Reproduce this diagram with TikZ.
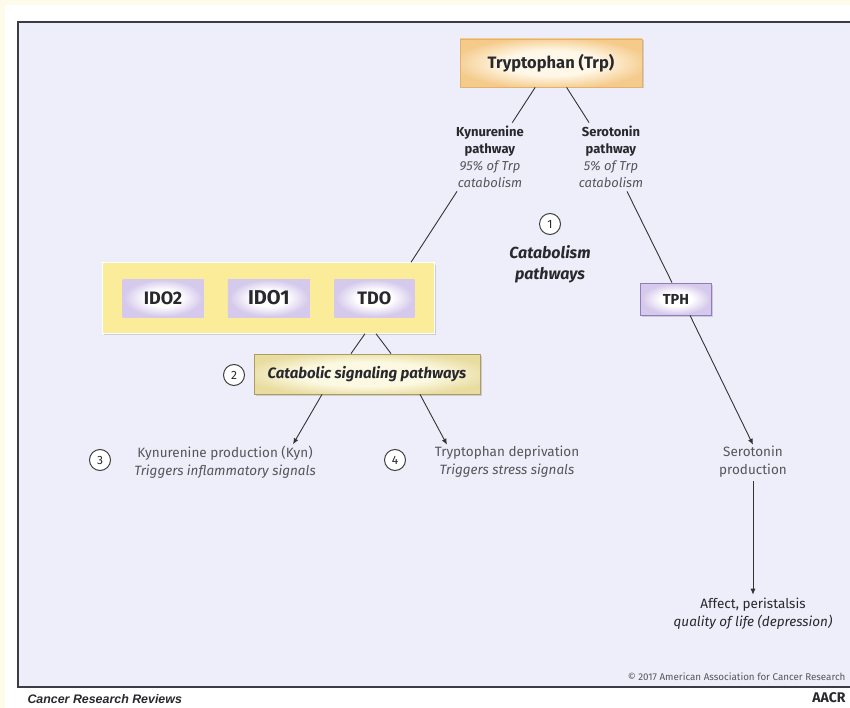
\documentclass[tikz,border=0pt]{standalone}
\usepackage{fontspec}
\setmainfont{Fira Sans}
\newfontfamily\footfont{Liberation Sans}
\usetikzlibrary{arrows.meta, positioning, fit, backgrounds, shadows}
\definecolor{cream}{RGB}{255, 251, 235}
\definecolor{panelbg}{RGB}{238, 238, 250}
\definecolor{framegray}{RGB}{60, 60, 70}
\definecolor{trpout}{RGB}{245, 203, 140}
\definecolor{trpin}{RGB}{255, 248, 232}
\definecolor{trpedge}{RGB}{228, 178, 110}
\definecolor{idoyellow}{RGB}{250, 236, 152}
\definecolor{enzlav}{RGB}{214, 202, 236}
\definecolor{tphedge}{RGB}{150, 122, 190}
\definecolor{catout}{RGB}{232, 220, 160}
\definecolor{catin}{RGB}{252, 249, 226}
\definecolor{catedge}{RGB}{175, 155, 95}
\definecolor{textdark}{RGB}{40, 40, 45}
\definecolor{textgray}{RGB}{85, 85, 90}

\pgfdeclareradialshading{lavglow}{\pgfpoint{0bp}{0bp}}{color(0bp)=(white); color(11bp)=(white); color(24bp)=(enzlav); color(50bp)=(enzlav)}
\pgfdeclareradialshading{trpglow}{\pgfpoint{0bp}{0bp}}{color(0bp)=(trpin); color(13bp)=(trpin); color(27bp)=(trpout); color(50bp)=(trpout)}
\pgfdeclareradialshading{catglow}{\pgfpoint{0bp}{0bp}}{color(0bp)=(catin); color(15bp)=(catin); color(28bp)=(catout); color(50bp)=(catout)}

\begin{document}
\begin{tikzpicture}[x=1pt, y=-1pt,
        node distance=24pt,
        trpbox/.style={rectangle, draw=trpedge, line width=0.8pt, shading=trpglow, minimum width=182pt, minimum height=48pt, font=\fontsize{16.5}{16.5}\selectfont\bfseries, text=textdark, drop shadow={shadow xshift=1.5pt, shadow yshift=-1.5pt, opacity=0.3}},
        enzbox/.style={rectangle, shading=lavglow, minimum height=38pt, font=\fontsize{18}{18}\selectfont\bfseries, text=textdark},
        catbox/.style={rectangle, draw=catedge, line width=0.8pt, shading=catglow, minimum width=226pt, minimum height=40pt, font=\fontsize{15}{15}\selectfont\bfseries\itshape, text=textdark, drop shadow={shadow xshift=1.5pt, shadow yshift=-1.5pt, opacity=0.3}},
        bg/.style={rectangle, fill=idoyellow, draw=white, line width=1pt, inner xsep=20pt, inner ysep=16pt, drop shadow={shadow xshift=1.5pt, shadow yshift=-2pt, opacity=0.3}},
        path/.style={align=center, font=\fontsize{13}{17}\selectfont, text=textdark},
        outcome/.style={align=center, font=\fontsize{13.5}{18}\selectfont, text=textgray},
        num/.style={circle, draw=black!75, line width=1pt, fill=white, inner sep=0pt, minimum size=21pt, font=\fontsize{12}{12}\selectfont, text=textdark},
        link/.style={line width=0.9pt, draw=black!80},
        arrow/.style={-{Latex[length=6pt, width=5pt]}, line width=0.9pt, draw=black!80}
    ]
        \useasboundingbox (0,0) rectangle (850,708);

        % Nodes
        \node[trpbox] (trp) at (551,63) {Tryptophan (Trp)};
        \node[path] (kyn) at (490,157) {\textbf{Kynurenine}\\ \textbf{pathway}\\ {\color{textgray}\itshape 95\% of Trp}\\ {\color{textgray}\itshape catabolism}};
        \node[path] (sero) at (611,157) {\textbf{Serotonin}\\ \textbf{pathway}\\ {\color{textgray}\itshape 5\% of Trp}\\ {\color{textgray}\itshape catabolism}};
        \node[num] (n1) at (550,224) {1};
        \node[align=center, font=\fontsize{16}{21}\selectfont\bfseries\itshape, text=textdark] (catab) at (550,264) {Catabolism\\ pathways};

        \node[enzbox, minimum width=81pt] (ido2) at (163,298) {IDO2};
        \node[enzbox, minimum width=82pt, right=of ido2, font=\fontsize{20}{20}\selectfont\bfseries] (ido1) {IDO1};
        \node[enzbox, minimum width=80pt, right=of ido1] (tdo) {TDO};
        \node[enzbox, draw=tphedge, line width=0.8pt, minimum width=71pt, minimum height=32pt, font=\fontsize{14.5}{14.5}\selectfont\bfseries, drop shadow={shadow xshift=1.5pt, shadow yshift=-1.5pt, opacity=0.3}] (tph) at (676,299) {TPH};

        \node[catbox] (cat) at (367,374) {Catabolic signaling pathways};
        \node[num] (n2) at (234,375) {2};

        \node[num] (n3) at (100,460) {3};
        \node[outcome] (kynprod) at (225,462) {Kynurenine production (Kyn)\\ \itshape Triggers inflammatory signals};
        \node[num] (n4) at (395,460) {4};
        \node[outcome] (trpdep) at (507,462) {Tryptophan deprivation\\ \itshape Triggers stress signals};
        \node[outcome] (serprod) at (753,462) {Serotonin\\ production};
        \node[outcome, text=textdark] (affect) at (753,614) {Affect, peristalsis\\ \itshape quality of life (depression)};

        % Page, panel and grouping
        \begin{scope}[on background layer]
            \fill[cream] (0,0) rectangle (850,708);
            \fill[white] (5,5) rectangle (850,708);
            \draw[fill=panelbg, draw=framegray, line width=1.6pt] (18,22) rectangle (880,687);
            \node[bg, fit=(ido2)(tdo)] (idogroup) {};
        \end{scope}

        % Connections
        \draw[link] (trp) -- (kyn);
        \draw[link] (trp) -- (sero);
        \draw[link] ([xshift=-33pt]kyn.south) -- ([xshift=-24pt]idogroup.north east);
        \draw[link] ([xshift=16pt]sero.south) -- ([xshift=-4pt]tph.north);
        \draw[link] ([xshift=-70pt]idogroup.south east) -- ([xshift=-16pt]cat.north);
        \draw[link] ([xshift=-59pt]idogroup.south east) -- ([xshift=24pt]cat.north);
        \draw[arrow] ([xshift=-45pt]cat.south) -- ([xshift=68pt, yshift=-2pt]kynprod.north);
        \draw[arrow] ([xshift=53pt]cat.south) -- ([xshift=-60pt, yshift=-2pt]trpdep.north);
        \draw[arrow] ([xshift=14pt]tph.south) -- ([yshift=-2pt]serprod.north);
        \draw[arrow] (serprod) -- (affect);

        % Credits
        \node[anchor=east, font=\fontsize{9.8}{9.8}\selectfont, text=textgray] (copy) at (849,677) {\textcopyright\ 2017 American Association for Cancer Research};
        \node[anchor=west, font=\footfont\fontsize{12.4}{12.4}\selectfont\bfseries\itshape, text=textdark] (journal) at (24,699) {Cancer Research Reviews};
        \node[anchor=east, font=\fontsize{14}{14}\selectfont\bfseries, text=textdark] (aacr) at (849,698) {AACR};
    \end{tikzpicture}
\end{document}
